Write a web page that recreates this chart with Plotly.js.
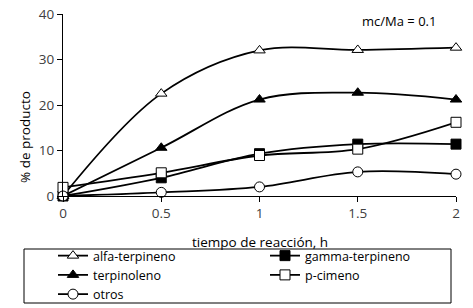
<!DOCTYPE html>
<html>
<head>
<meta charset="utf-8">
<script src="https://cdn.plot.ly/plotly-3.0.1.min.js"></script>
<style>
html,body{margin:0;padding:0;background:#fff;}
#chart{width:473px;height:308px;}
</style>
</head>
<body>
<div id="chart"></div>
<script>
const tiempo = [0, 0.5, 1, 1.5, 2];
const alfaTerpineno = [0, 22.5, 32.0, 32.1, 32.6];
const gammaTerpineno = [0, 4.0, 9.3, 11.4, 11.4];
const terpinoleno = [0, 10.6, 21.2, 22.7, 21.2];
const pCimeno = [1.9, 5.1, 8.9, 10.3, 16.2];
const otros = [0, 0.8, 2.0, 5.3, 4.8];
const xTicks = [0, 0.5, 1, 1.5, 2];
const yTicks = [0, 10, 20, 30, 40];

const FONT = '"Open Sans", Lato, sans-serif';
function tr(name, y, symbol, fill, legend) {
  return {
    x: tiempo, y: y, name: name, type: 'scatter', mode: 'lines+markers',
    line: {color: '#000', width: 1.8, shape: 'spline', smoothing: 1},
    marker: {symbol: symbol, size: 10, color: fill, line: {color: '#000', width: 1}},
    cliponaxis: false, legend: legend
  };
}
const data = [
  tr('alfa-terpineno', alfaTerpineno, 'triangle-up', '#fff', 'legend'),
  tr('gamma-terpineno', gammaTerpineno, 'square', '#000', 'legend2'),
  tr('terpinoleno', terpinoleno, 'triangle-up', '#000', 'legend'),
  tr('p-cimeno', pCimeno, 'square', '#fff', 'legend2'),
  tr('otros', otros, 'circle', '#fff', 'legend')
];
const legBase = {
  orientation: 'v', xanchor: 'left', y: (196 - 241) / 182, yanchor: 'top',
  font: {family: FONT, size: 12.5, color: '#000'},
  bgcolor: 'rgba(0,0,0,0)', borderwidth: 0, tracegroupgap: 0
};
const layout = {
  width: 473, height: 308,
  margin: {l: 63, r: 17, t: 14, b: 112, autoexpand: false},
  paper_bgcolor: '#fff', plot_bgcolor: '#fff',
  font: {family: FONT, size: 13, color: '#404040'},
  showlegend: true,
  xaxis: {
    range: [0, 2], tickvals: xTicks, ticktext: xTicks.map(String),
    showgrid: false, zeroline: false, showline: true, linecolor: '#000', linewidth: 1,
    ticks: 'outside', ticklen: 5, tickcolor: '#000',
    tickfont: {family: FONT, size: 13.5, color: '#404040'}
  },
  yaxis: {
    range: [0, 40], tickvals: yTicks,
    showgrid: false, zeroline: false, showline: true, linecolor: '#000', linewidth: 1,
    ticks: 'outside', ticklen: 5, tickcolor: '#000',
    tickfont: {family: FONT, size: 13.5, color: '#404040'}
  },
  legend: Object.assign({}, legBase, {x: (53 - 63) / 393}),
  legend2: Object.assign({}, legBase, {x: (265 - 63) / 393}),
  shapes: [{
    type: 'rect', xref: 'paper', yref: 'paper',
    x0: (24 - 63) / 393, x1: (451 - 63) / 393,
    y0: (196 - 249) / 182, y1: (196 - 303) / 182,
    line: {color: '#000', width: 1}, fillcolor: 'rgba(0,0,0,0)'
  }],
  annotations: [
    {text: 'mc/Ma = 0.1', xref: 'paper', yref: 'paper', x: (399 - 63) / 393, y: (196 - 21) / 182,
     xanchor: 'center', yanchor: 'middle',
     showarrow: false, font: {family: FONT, size: 13, color: '#000'}},
    {text: '% de producto', xref: 'paper', yref: 'paper', x: (25 - 63) / 393, y: (196 - 137) / 182,
     xanchor: 'center', yanchor: 'middle',
     textangle: -90, showarrow: false, font: {family: FONT, size: 13.5, color: '#000'}},
    {text: 'tiempo de reacción, h', xref: 'paper', yref: 'paper', x: (260 - 63) / 393,
     y: (196 - 242) / 182, xanchor: 'center', yanchor: 'middle',
     showarrow: false, font: {family: FONT, size: 13.5, color: '#000'}}
  ]
};
Plotly.newPlot('chart', data, layout, {displayModeBar: false, staticPlot: true});
</script>
</body>
</html>
